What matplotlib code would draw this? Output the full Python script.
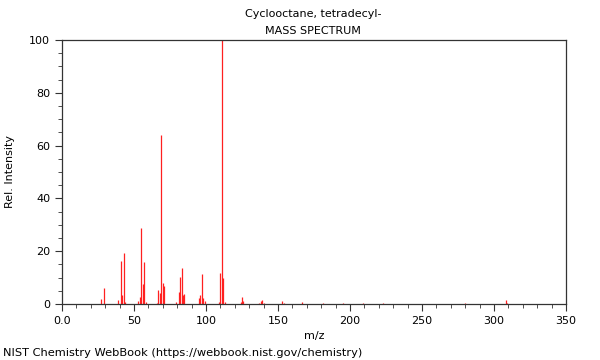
import matplotlib
matplotlib.use('Agg')
import matplotlib.pyplot as plt
from matplotlib.ticker import MultipleLocator

title = 'Cyclooctane, tetradecyl-'
subtitle = 'MASS SPECTRUM'
footer = 'NIST Chemistry WebBook (https://webbook.nist.gov/chemistry)'

# m/z and relative intensity
mz = [27, 29, 39, 41, 42, 43, 44,
      53, 54, 55, 56, 57, 58,
      66, 67, 68, 69, 70, 71,
      79, 81, 82, 83, 84, 85,
      95, 96, 97, 98, 99,
      109, 110, 111, 112, 113,
      124, 125, 126,
      137, 138, 139, 140,
      153, 154, 167, 181, 195, 209, 223, 280, 308, 309]
intensity = [1.9, 6.0, 1.5, 16.3, 3.4, 19.4, 0.7,
             1.0, 2.5, 28.8, 7.4, 16.0, 0.7,
             0.5, 5.2, 4.3, 64.0, 8.0, 6.8,
             0.9, 4.6, 10.4, 13.8, 3.3, 3.8,
             2.1, 3.4, 11.2, 2.4, 1.3,
             0.9, 11.6, 100.0, 9.7, 0.9,
             0.9, 2.7, 1.1,
             0.5, 1.0, 1.5, 0.4,
             1.3, 0.4, 0.9, 0.5, 0.3, 0.4, 0.3, 0.5, 1.6, 0.4]

fig = plt.figure(figsize=(6, 3.6), dpi=100)
ax = fig.add_axes([0.1033, 0.1556, 0.84, 0.7333])

ax.vlines(mz, 0, intensity, color='#ff2020', linewidth=0.9)

ax.set_xlim(0, 350)
ax.set_ylim(0, 100)
ax.xaxis.set_minor_locator(MultipleLocator(10))
ax.yaxis.set_major_locator(MultipleLocator(20))
ax.yaxis.set_minor_locator(MultipleLocator(5))
ax.xaxis.set_ticks(range(0, 351, 50))
ax.set_xticklabels(['0.0'] + [str(v) for v in range(50, 351, 50)])

for s in ax.spines.values():
    s.set_color('#333333')
    s.set_linewidth(0.9)
ax.tick_params(which='major', length=5, width=0.8, labelsize=8, color='#333333')
ax.tick_params(which='minor', length=3, width=0.6, color='#333333')

ax.set_xlabel('m/z', fontsize=8)
ax.set_ylabel('Rel. Intensity', fontsize=8, labelpad=10)

fig.text(0.522, 0.962, title, ha='center', va='center', fontsize=8)
fig.text(0.522, 0.915, subtitle, ha='center', va='center', fontsize=8)
fig.text(0.005, 0.02, footer, ha='left', va='center', fontsize=8.2)

fig.savefig('out.png', dpi=100)
